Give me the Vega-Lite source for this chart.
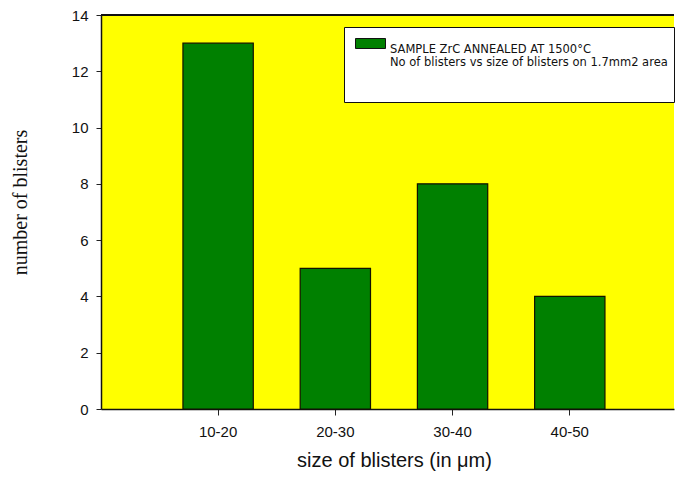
{
  "$schema": "https://vega.github.io/schema/vega-lite/v6.json",
  "width": 573,
  "height": 394,
  "autosize": {"type": "none"},
  "padding": {"left": 101, "top": 15, "right": 1, "bottom": 68},
  "background": "white",
  "config": {
    "view": {"fill": "#FFFF00", "stroke": null},
    "font": "Liberation Sans"
  },
  "data": {
    "values": [
      {"size": "10-20", "count": 13, "series": "SAMPLE ZrC ANNEALED AT 1500°C"},
      {"size": "20-30", "count": 5, "series": "SAMPLE ZrC ANNEALED AT 1500°C"},
      {"size": "30-40", "count": 8, "series": "SAMPLE ZrC ANNEALED AT 1500°C"},
      {"size": "40-50", "count": 4, "series": "SAMPLE ZrC ANNEALED AT 1500°C"}
    ]
  },
  "layer": [
    {
      "mark": {"type": "bar", "stroke": "#111100", "strokeWidth": 1.2},
      "encoding": {
        "x": {
          "field": "size",
          "type": "nominal",
          "sort": null,
          "scale": {"paddingInner": 0.4, "paddingOuter": 0.644, "align": 0.5427},
          "axis": {
            "title": "size of blisters (in μm)",
            "titleFont": "Liberation Sans",
            "titleFontSize": 20,
            "titleFontWeight": "normal",
            "titleColor": "#111111",
            "titleX": 293,
            "titlePadding": 11,
            "labelAngle": 0,
            "labelFontSize": 15,
            "labelColor": "#111111",
            "labelPadding": 9,
            "tickSize": 6,
            "tickColor": "#222222",
            "domainColor": "#111111",
            "domainWidth": 1.5
          }
        },
        "y": {
          "field": "count",
          "type": "quantitative",
          "scale": {"domain": [0, 14], "nice": false},
          "axis": {
            "values": [0, 2, 4, 6, 8, 10, 12, 14],
            "grid": false,
            "title": "number of blisters",
            "titleFont": "Liberation Serif",
            "titleFontSize": 20,
            "titleFontWeight": "normal",
            "titleColor": "#111111",
            "titleY": 187,
            "titlePadding": 41,
            "labelFontSize": 15,
            "labelColor": "#111111",
            "labelPadding": 8,
            "tickSize": 5,
            "tickColor": "#222222",
            "domainColor": "#111111",
            "domainWidth": 1.5
          }
        },
        "fill": {
          "field": "series",
          "type": "nominal",
          "scale": {"range": ["#008000"]},
          "legend": {
            "title": null,
            "orient": "none",
            "legendX": 243,
            "legendY": 12,
            "fillColor": "white",
            "strokeColor": "#111111",
            "padding": 6,
            "symbolOffset": 10,
            "symbolType": "M-1.5,-0.5H1.5V0.5H-1.5Z",
            "symbolSize": 400,
            "symbolStrokeColor": "#111111",
            "symbolStrokeWidth": 1,
            "labelFont": "DejaVu Sans",
            "labelFontSize": 11.5,
            "labelColor": "#111111",
            "labelBaseline": "top",
            "labelLineHeight": 10.5,
            "labelOffset": 9,
            "labelLimit": 700,
            "labelExpr": "['SAMPLE ZrC ANNEALED AT 1500°C', 'No of blisters vs size of blisters on 1.7mm2 area\u00a0\u00a0\u00a0\u00a0\u00a0\u00a0\u00a0\u00a0\u00a0\u00a0\u00a0\u00a0\u00a0\u00a0\u00a0\u00a0\u00a0\u00a0', '\u00a0', '\u00a0']"
          }
        }
      }
    },
    {
      "mark": {"type": "rule", "color": "#111111", "strokeWidth": 1.5},
      "encoding": {"y": {"datum": 14}}
    }
  ]
}
